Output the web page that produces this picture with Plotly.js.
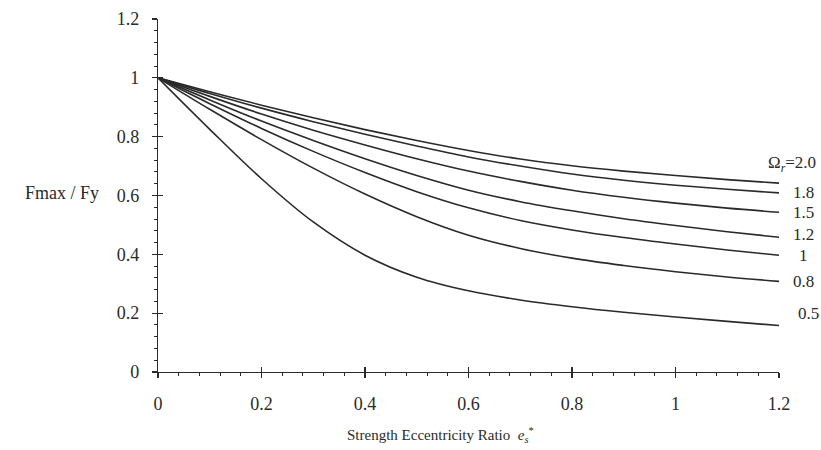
<!DOCTYPE html>
<html>
<head>
<meta charset="utf-8">
<script src="https://cdn.plot.ly/plotly-3.0.1.min.js"></script>
<style>html,body{margin:0;padding:0;background:#fff}#chart{width:821px;height:450px}</style>
</head>
<body>
<div id="chart"></div>
<script>
// Strength eccentricity ratio e_s*
const xVals = [0, 0.1, 0.2, 0.3, 0.4, 0.5, 0.6, 0.7, 0.8, 0.9, 1.0, 1.1, 1.2];
// Omega_r series labels
const omegaLabels = ['2.0', '1.8', '1.5', '1.2', '1', '0.8', '0.5'];
// Fmax/Fy values for each Omega_r
const r20 = [1, 0.953, 0.907, 0.864, 0.824, 0.787, 0.753, 0.724, 0.701, 0.683, 0.668, 0.654, 0.642];
const r18 = [1, 0.947, 0.897, 0.851, 0.808, 0.768, 0.731, 0.700, 0.673, 0.652, 0.635, 0.621, 0.609];
const r15 = [1, 0.937, 0.877, 0.822, 0.772, 0.725, 0.683, 0.648, 0.618, 0.594, 0.574, 0.557, 0.543];
const r12 = [1, 0.925, 0.853, 0.787, 0.725, 0.668, 0.618, 0.579, 0.548, 0.521, 0.498, 0.477, 0.458];
const r10 = [1, 0.912, 0.828, 0.750, 0.678, 0.613, 0.558, 0.515, 0.483, 0.457, 0.435, 0.415, 0.397];
const r08 = [1, 0.893, 0.790, 0.693, 0.605, 0.528, 0.465, 0.420, 0.387, 0.362, 0.341, 0.323, 0.308];
const r05 = [1, 0.825, 0.657, 0.510, 0.397, 0.322, 0.276, 0.245, 0.222, 0.203, 0.187, 0.172, 0.158];
// Tick values / labels
const tickVals = [0, 0.2, 0.4, 0.6, 0.8, 1, 1.2];
const tickText = ['0', '0.2', '0.4', '0.6', '0.8', '1', '1.2'];

const series = [r20, r18, r15, r12, r10, r08, r05];
const serif = 'Liberation Serif, Times New Roman, serif';
const ink = '#2a2a2a';

const traces = series.map((ys, i) => ({
  x: xVals, y: ys, type: 'scatter', mode: 'lines',
  name: omegaLabels[i],
  line: {color: ink, width: 1.6, shape: 'spline', smoothing: 1},
  hoverinfo: 'x+y+name'
}));
// overlay trace so the inner half of the crossing major ticks is drawn
traces.push({x: [0], y: [0], xaxis: 'x2', yaxis: 'y2', mode: 'markers', marker: {opacity: 0}, showlegend: false, hoverinfo: 'skip'});

// label placement (pixel nudges)
const labelCfg = [
  {x: 1.063, anchor: 'right', shift: 19},
  {x: 1.039, anchor: 'center', shift: 0},
  {x: 1.039, anchor: 'center', shift: 0},
  {x: 1.039, anchor: 'center', shift: 3},
  {x: 1.039, anchor: 'center', shift: 0},
  {x: 1.039, anchor: 'center', shift: 0},
  {x: 1.047, anchor: 'center', shift: 12}
];
const annotations = series.map((ys, i) => ({
  xref: 'paper', yref: 'y', x: labelCfg[i].x, y: ys[ys.length - 1],
  xanchor: labelCfg[i].anchor, yanchor: 'middle', yshift: labelCfg[i].shift,
  text: i === 0 ? 'Ω<sub><i>r</i></sub>=' + omegaLabels[i] : omegaLabels[i],
  showarrow: false, font: {family: serif, size: 17, color: ink}
}));
annotations.push({
  xref: 'paper', yref: 'paper', x: -0.155, y: 0.506, xanchor: 'center', yanchor: 'middle',
  text: 'Fmax / Fy', showarrow: false, font: {family: serif, size: 18, color: ink}
});
annotations.push({
  xref: 'paper', yref: 'paper', x: 0.301, y: -0.178, xanchor: 'left', yanchor: 'middle',
  text: 'Strength Eccentricity Ratio  <i>e</i><sub><i>s</i></sub><sup>*</sup>', showarrow: false,
  font: {family: serif, size: 15, color: ink}
});

const axisBase = {
  range: [0, 1.2], tickmode: 'array', tickvals: tickVals, ticktext: tickText,
  showgrid: false, zeroline: false, showline: true, linecolor: ink, linewidth: 1.2,
  ticks: 'outside', ticklen: 5, tickwidth: 1.2, tickcolor: ink,
  tickfont: {family: serif, size: 18, color: ink},
  minor: {ticks: 'outside', ticklen: 3, tickwidth: 1, tickcolor: ink, dtick: 0.04, tick0: 0, showgrid: false},
  fixedrange: true
};

const layout = {
  width: 821, height: 450,
  margin: {l: 158, r: 42, t: 19, b: 78},
  paper_bgcolor: '#fff', plot_bgcolor: '#fff',
  showlegend: false,
  xaxis: Object.assign({}, axisBase, {ticklabelstandoff: 10}),
  yaxis: Object.assign({}, axisBase, {ticklabelstandoff: 9}),
  xaxis2: {overlaying: 'x', range: [0, 1.2], tickvals: tickVals, showticklabels: false, ticks: 'inside', ticklen: 5, tickwidth: 1.2, tickcolor: ink, showgrid: false, zeroline: false, showline: false, fixedrange: true},
  yaxis2: {overlaying: 'y', range: [0, 1.2], tickvals: tickVals, showticklabels: false, ticks: 'inside', ticklen: 5, tickwidth: 1.2, tickcolor: ink, showgrid: false, zeroline: false, showline: false, fixedrange: true},
  annotations: annotations
};

Plotly.newPlot('chart', traces, layout, {displayModeBar: false, staticPlot: true});
</script>
</body>
</html>
